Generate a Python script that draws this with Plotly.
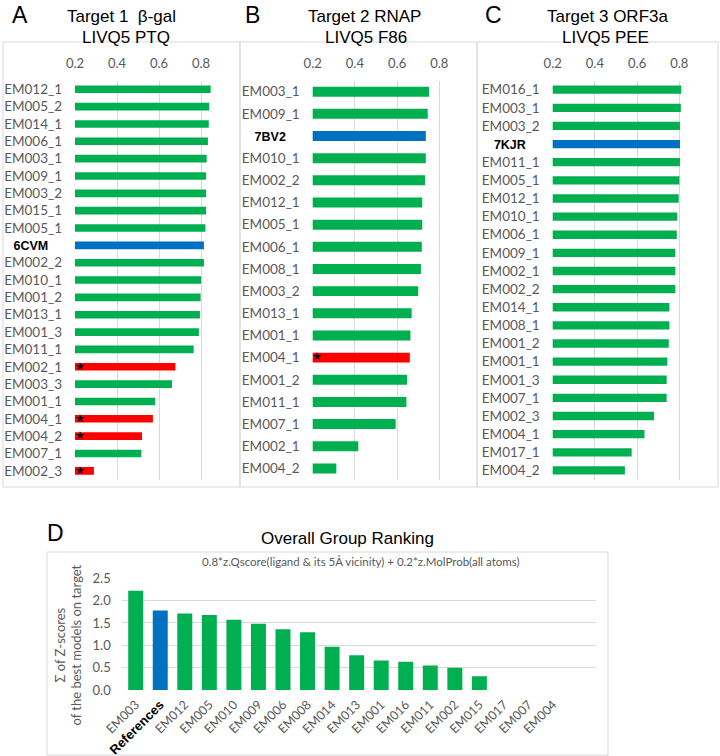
import plotly.graph_objects as go

# ---------------- DATA ----------------
a_models = ["EM012_1", "EM005_2", "EM014_1", "EM006_1", "EM003_1", "EM009_1", "EM003_2", "EM015_1",
            "EM005_1", "6CVM", "EM002_2", "EM010_1", "EM001_2", "EM013_1", "EM001_3", "EM011_1",
            "EM002_1", "EM003_3", "EM001_1", "EM004_1", "EM004_2", "EM007_1", "EM002_3"]
a_scores = [0.846, 0.839, 0.837, 0.833, 0.827, 0.824, 0.824, 0.824, 0.821, 0.814, 0.814, 0.801,
            0.798, 0.795, 0.790, 0.765, 0.678, 0.662, 0.582, 0.571, 0.519, 0.516, 0.290]
a_ref = "6CVM"
a_flagged = ["EM002_1", "EM004_1", "EM004_2", "EM002_3"]

b_models = ["EM003_1", "EM009_1", "7BV2", "EM010_1", "EM002_2", "EM012_1", "EM005_1", "EM006_1",
            "EM008_1", "EM003_2", "EM013_1", "EM001_1", "EM004_1", "EM001_2", "EM011_1", "EM007_1",
            "EM002_1", "EM004_2"]
b_scores = [0.751, 0.745, 0.736, 0.736, 0.732, 0.719, 0.719, 0.717, 0.713, 0.700, 0.669, 0.663,
            0.660, 0.647, 0.644, 0.593, 0.416, 0.312]
b_ref = "7BV2"
b_flagged = ["EM004_1"]

c_models = ["EM016_1", "EM003_1", "EM003_2", "7KJR", "EM011_1", "EM005_1", "EM012_1", "EM010_1",
            "EM006_1", "EM009_1", "EM002_1", "EM002_2", "EM014_1", "EM008_1", "EM001_2", "EM001_1",
            "EM001_3", "EM007_1", "EM002_3", "EM004_1", "EM017_1", "EM004_2"]
c_scores = [0.809, 0.807, 0.803, 0.803, 0.803, 0.800, 0.797, 0.790, 0.788, 0.781, 0.781, 0.781,
            0.753, 0.753, 0.750, 0.743, 0.740, 0.740, 0.680, 0.635, 0.574, 0.542]
c_ref = "7KJR"
c_flagged = []

d_groups = ["EM003", "References", "EM012", "EM005", "EM010", "EM009", "EM006", "EM008", "EM014",
            "EM013", "EM001", "EM016", "EM011", "EM002", "EM015", "EM017", "EM007", "EM004"]
d_scores = [2.22, 1.78, 1.71, 1.68, 1.57, 1.48, 1.36, 1.29, 0.97, 0.78, 0.66, 0.63, 0.55, 0.50,
            0.31, 0.0, 0.0, 0.0]
d_ref = "References"

panel_titles = [("Target 1  β-gal", "LIVQ5 PTQ"), ("Target 2 RNAP", "LIVQ5 F86"),
                ("Target 3 ORF3a", "LIVQ5 PEE")]
panel_letters = ["A", "B", "C", "D"]
score_ticks = [0.2, 0.4, 0.6, 0.8]
d_ticks = [0.0, 0.5, 1.0, 1.5, 2.0, 2.5]

# ---------------- STYLE ----------------
GREEN = "#00B050"
BLUE = "#0070C0"
RED = "#FF0000"
GRID = "#d9d9d9"
GRAY = "#595959"
W, H = 720, 756
LFONT = "Lato"


def px(x):
    return x / W


def py(y):
    return 1 - y / H


def colors_for(models, ref, flagged):
    out = []
    for m in models:
        if m == ref:
            out.append(BLUE)
        elif m in flagged:
            out.append(RED)
        else:
            out.append(GREEN)
    return out


def ticktext_for(models, ref):
    out = []
    for m in models:
        if m == ref:
            out.append('<span style="font-family:Arial;font-weight:bold;color:#000000;font-size:12.5px">'
                       + m + '</span>' + "\u00a0" * 4)
        else:
            out.append(m)
    return out


fig = go.Figure()

panels = [
    (a_models, a_scores, a_ref, a_flagged, (75, 213.6), 0.44),
    (b_models, b_scores, b_ref, b_flagged, (312.7, 452.0), 0.45),
    (c_models, c_scores, c_ref, c_flagged, (552.7, 692.0), 0.46),
]

layout_axes = {}
for i, (models, scores, ref, flagged, (xl, xr), bw) in enumerate(panels):
    n = i + 1
    xa = "x" if n == 1 else f"x{n}"
    ya = "y" if n == 1 else f"y{n}"
    fig.add_trace(go.Bar(
        x=scores, y=models, orientation="h",
        marker=dict(color=colors_for(models, ref, flagged), line=dict(width=0)),
        width=bw, xaxis=xa, yaxis=ya, showlegend=False, hoverinfo="x+y"))
    if flagged:
        fig.add_trace(go.Scatter(
            x=[0.222] * len(flagged), y=flagged, mode="text", text=["★"] * len(flagged),
            textfont=dict(size=11, color="#000000"), textposition="middle center",
            xaxis=xa, yaxis=ya, showlegend=False, hoverinfo="skip"))
    xkey = "xaxis" if n == 1 else f"xaxis{n}"
    ykey = "yaxis" if n == 1 else f"yaxis{n}"
    layout_axes[xkey] = dict(
        domain=[px(xl), px(xr)], anchor=ya, side="top", range=[0.2, 0.86],
        tickvals=score_ticks, ticktext=[f"{t:.1f}" for t in score_ticks],
        showgrid=True, gridcolor=GRID, gridwidth=1, zeroline=False, showline=False,
        ticks="", ticklabelstandoff=9, tickfont=dict(family=LFONT, size=13, color=GRAY),
        fixedrange=True, automargin=False)
    layout_axes[ykey] = dict(
        domain=[py(479.5), py(80.6)], anchor=xa, type="category",
        range=[len(models) - 0.5, -0.5], tickvals=models, ticktext=ticktext_for(models, ref),
        showgrid=False, zeroline=False, showline=False, ticks="", ticklabelstandoff=12,
        tickfont=dict(family=LFONT, size=13.5, color=GRAY), fixedrange=True, automargin=False)

# Panel D
fig.add_trace(go.Bar(
    x=d_groups, y=d_scores,
    marker=dict(color=[BLUE if g == d_ref else GREEN for g in d_groups], line=dict(width=0)),
    width=0.61, xaxis="x4", yaxis="y4", showlegend=False))

layout_axes["xaxis4"] = dict(
    domain=[px(121.7), px(596)], anchor="y4", type="category", range=[-0.57, 18.75],
    tickvals=d_groups,
    ticktext=['<span style="font-family:Arial;font-weight:bold;color:#000000;font-size:13px">' + g
              + '</span>' if g == d_ref else g for g in d_groups],
    tickangle=-45, ticks="", ticklabelstandoff=4, showgrid=False, zeroline=False, showline=False,
    tickfont=dict(family=LFONT, size=12.5, color=GRAY), fixedrange=True, automargin=False)
layout_axes["yaxis4"] = dict(
    domain=[py(690), py(690 - 2.52 * 44.7)], anchor="x4", range=[0, 2.52],
    tickvals=d_ticks, ticktext=[f"{t:.1f}" for t in d_ticks],
    showgrid=True, gridcolor=GRID, gridwidth=1, zeroline=False, showline=False, ticks="",
    ticklabelstandoff=10, tickfont=dict(family=LFONT, size=13, color=GRAY), fixedrange=True,
    automargin=False)

# Boxes
shapes = []
for (x0, x1) in [(3, 240), (240, 477), (477, 718)]:
    shapes.append(dict(type="rect", xref="paper", yref="paper", x0=px(x0), x1=px(x1),
                       y0=py(487), y1=py(42), line=dict(color=GRID, width=1)))
shapes.append(dict(type="rect", xref="paper", yref="paper", x0=px(47), x1=px(608),
                   y0=py(755), y1=py(552), line=dict(color=GRID, width=1)))

annotations = []


def ann(text, x, y, size, family="Arial", color="#000000", **kw):
    annotations.append(dict(text=text, x=px(x), y=py(y), xref="paper", yref="paper",
                            showarrow=False, xanchor="center", yanchor="middle",
                            font=dict(family=family, size=size, color=color), **kw))


title_centers = [(121, 126), (364.5, 365.5), (607, 605)]
letter_pos = [(20, 15), (253, 15), (493, 15), (55, 533)]
for (t1, t2), (c1, c2) in zip(panel_titles, title_centers):
    ann(t1, c1, 16, 17)
    ann(t2, c2, 37, 17)
for letter, (lx, ly) in zip(panel_letters, letter_pos):
    ann(letter, lx, ly, 23)

ann("Overall Group Ranking", 347, 538, 17)
ann("0.8*z.Qscore(ligand &amp; its 5Å vicinity) + 0.2*z.MolProb(all atoms)", 361, 561, 11.5,
    family=LFONT, color=GRAY)
ann("Σ of Z-scores<br>of the best models on target", 67.5, 645, 13, family=LFONT, color=GRAY,
    textangle=-90)

fig.update_layout(
    width=W, height=H, autosize=False,
    margin=dict(l=0, r=0, t=0, b=0, pad=0),
    paper_bgcolor="white", plot_bgcolor="white",
    shapes=shapes, annotations=annotations, bargap=0.5,
    **layout_axes)

fig.write_html(
    "out.html",
    config={"displayModeBar": False},
    post_script="document.body.style.margin='0';document.body.style.padding='0';"
                "document.body.style.overflow='hidden';"
                "document.documentElement.style.overflow='hidden';")
